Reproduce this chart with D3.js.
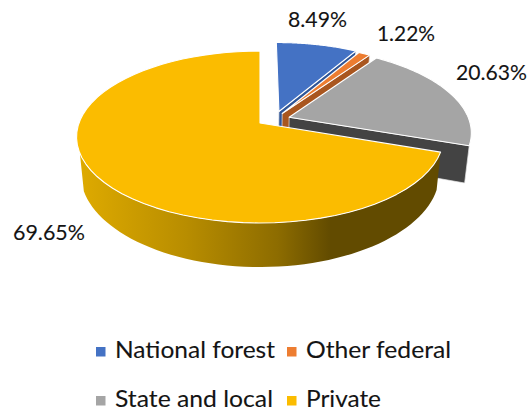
<!DOCTYPE html>
<html><head><meta charset="utf-8">
<script src="https://cdn.jsdelivr.net/npm/d3@7"></script>
<style>html,body{margin:0;padding:0;background:#fff}svg{display:block}text{font-family:Lato,"Open Sans",sans-serif;fill:#141414;stroke:#141414;stroke-width:.1px}</style>
</head><body><svg id="c" width="529" height="412"></svg>
<script>
const categories = ["National forest","Other federal","State and local","Private"];
const values = [8.49,1.22,20.63,69.65];
const labels = ["8.49%","1.22%","20.63%","69.65%"];
const topColors = ["#4472c4","#ed7d31","#a5a5a5","#fbbc00"];
const wallColors = ["#2f5597","#a9561f","#434343","#614a00"];

// layout constants
const explode = [[.107,-.14],[.125,-.115],[.163,-.07],[0,0]];
const labelPos = [[288,27,59],[377,41,58],[456,80,71],[13,240,72]];
const legendPos = [[96,115,358,160],[287,306,358,145],[96,115,407,158],[287,306,407,75]];
const P = .163;
const topDisc = {x0:260,y0:123,rx:181,ry:83.7};
const botDisc = {x0:260,y0:158.4,rx:177,ry:90.9};

const svg = d3.select("#c");
const defs = svg.append("defs");
const grad = defs.append("linearGradient").attr("id","wall").attr("gradientUnits","userSpaceOnUse")
  .attr("x1",77).attr("x2",442).attr("y1",0).attr("y2",0);
[[0,"#dfab00"],[.3,"#b88d00"],[.55,"#8d6c00"],[.695,"#624b00"],[1,"#624b00"]].forEach(s=>
  grad.append("stop").attr("offset",s[0]).attr("stop-color",s[1]));

const arcs = d3.pie().sort(null).startAngle(0).endAngle(2*Math.PI)(values);
const proj = (d,U,V)=>{const w=1-P*V;return [d.x0+d.rx*U/w,d.y0+d.ry*V/w];};
const pt = (d,i,a,r=1)=>proj(d,explode[i][0]+r*Math.sin(a),explode[i][1]-r*Math.cos(a));
const line = d3.line();
const arcPts = (d,i,a0,a1)=>d3.range(0,61).map(k=>pt(d,i,a0+(a1-a0)*k/60));

arcs.forEach((a,i)=>{
  const g = svg.append("g");
  const e = a.endAngle, s = a.startAngle;
  if(i<3){
    // radial face at the slice's clockwise end
    g.append("path").attr("d",line([pt(topDisc,i,e,0),pt(topDisc,i,e),pt(botDisc,i,e),pt(botDisc,i,e,0)])+"Z")
      .attr("fill",wallColors[i]).attr("stroke","#e8e8e8").attr("stroke-width",.7);
  } else {
    const wallEnd = 250*Math.PI/180;
    const tp = arcPts(topDisc,i,s,wallEnd), bp = arcPts(botDisc,i,s,wallEnd).reverse();
    g.append("path").attr("d",line(tp.concat(bp))+"Z").attr("fill","url(#wall)");
  }
  g.append("path").attr("d",line([pt(topDisc,i,s,0)].concat(arcPts(topDisc,i,s,e)))+"Z")
    .attr("fill",topColors[i]).attr("stroke","#fff").attr("stroke-width",1.1).attr("stroke-linejoin","round");
});

labels.forEach((t,i)=>svg.append("text").attr("x",labelPos[i][0]).attr("y",labelPos[i][1])
  .attr("font-size",21).attr("textLength",labelPos[i][2]).attr("lengthAdjust","spacingAndGlyphs").text(t));

categories.forEach((t,i)=>{
  const p = legendPos[i];
  svg.append("rect").attr("x",p[0]).attr("y",p[2]-11).attr("width",9.5).attr("height",9.5).attr("fill",topColors[i]);
  svg.append("text").attr("x",p[1]).attr("y",p[2]).attr("font-size",23)
    .attr("textLength",p[3]).attr("lengthAdjust","spacingAndGlyphs").text(t);
});
</script></body></html>
